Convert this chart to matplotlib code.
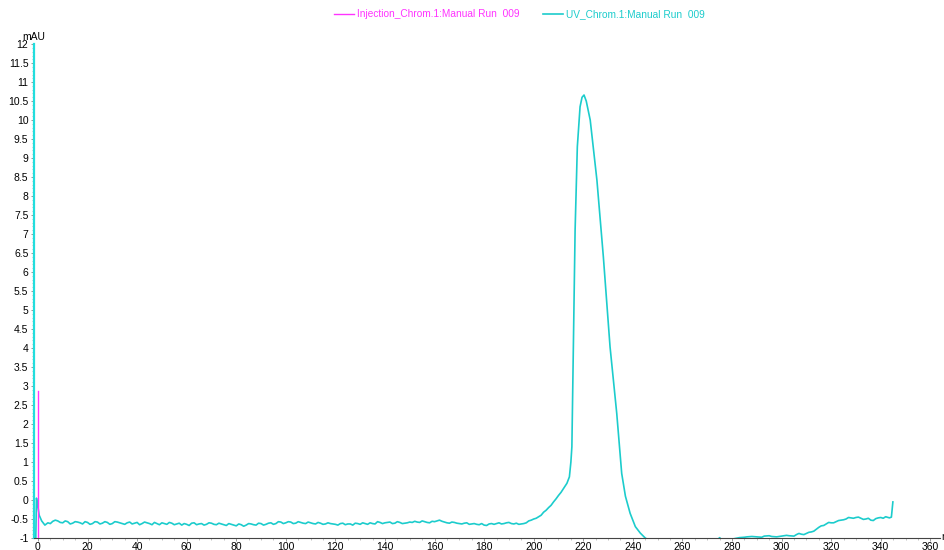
import matplotlib
matplotlib.use("Agg")
import matplotlib.pyplot as plt
from matplotlib.ticker import MultipleLocator, FuncFormatter

# ---- data ----
inj_x = [0.0, 0.0]
inj_y = [-1.0, 2.87]

uv_x = [-1.0, -0.6, -0.2, 0.5, 1.5, 2.8,
        4, 6, 8, 10, 12, 14, 16, 18, 20, 22, 24, 26, 28, 30, 32, 34, 36, 38, 40,
        42, 44, 46, 48, 50, 52, 54, 56, 58, 60, 62, 64, 66, 68, 70, 72, 74, 76, 78, 80,
        82, 84, 86, 88, 90, 92, 94, 96, 98, 100, 102, 104, 106, 108, 110, 112, 114, 116, 118, 120,
        122, 124, 126, 128, 130, 132, 134, 136, 138, 140, 142, 144, 146, 148, 150, 152, 154, 156, 158, 160,
        162, 164, 166, 168, 170, 172, 174, 176, 178, 180, 182, 184, 186, 188, 190, 192, 194, 196, 198, 200,
        202, 204, 206, 208, 210, 212, 213.4, 214.4, 215.0, 215.4, 216.0, 216.7, 217.6, 218.7, 219.5, 220.3,
        221.2, 222.8, 224.0, 225.5, 228.1, 230.8, 233.5, 235.5, 237.0, 238.9, 241.0, 243.0, 245.0,
        247, 250, 255, 260, 265, 270, 274, 275, 276, 280, 283, 286, 290, 293, 296, 300,
        303, 306, 308, 310, 312, 314, 316, 318, 320, 322, 324, 326, 328, 330, 332, 334, 336, 338, 340,
        342, 343.5, 344.3, 344.9]
uv_y = [-1.5, 0.05, -0.10, -0.40, -0.55, -0.66,
        -0.60, -0.56, -0.55, -0.60, -0.57, -0.61, -0.58, -0.63, -0.59, -0.62, -0.58, -0.61, -0.59, -0.62, -0.58, -0.62, -0.60, -0.63, -0.59,
        -0.62, -0.60, -0.65, -0.62, -0.60, -0.64, -0.61, -0.63, -0.66, -0.64, -0.61, -0.65, -0.62, -0.64, -0.61, -0.65, -0.63, -0.67, -0.64, -0.68,
        -0.65, -0.66, -0.63, -0.66, -0.62, -0.64, -0.60, -0.62, -0.58, -0.60, -0.58, -0.61, -0.59, -0.62, -0.60, -0.63, -0.61, -0.63, -0.62, -0.64,
        -0.62, -0.65, -0.63, -0.61, -0.64, -0.62, -0.60, -0.63, -0.59, -0.60, -0.58, -0.61, -0.59, -0.61, -0.58, -0.56, -0.59, -0.57, -0.60, -0.57,
        -0.53, -0.58, -0.61, -0.59, -0.62, -0.61, -0.64, -0.62, -0.65, -0.66, -0.63, -0.64, -0.60, -0.62, -0.59, -0.63, -0.64, -0.62, -0.55, -0.50,
        -0.44, -0.32, -0.20, -0.05, 0.12, 0.30, 0.44, 0.61, 1.0, 1.4, 4.0, 7.1, 9.3, 10.35, 10.6, 10.66,
        10.5, 10.0, 9.3, 8.42, 6.4, 4.03, 2.28, 0.7, 0.1, -0.35, -0.7, -0.87, -1.0,
        -1.08, -1.12, -1.15, -1.15, -1.13, -1.10, -1.06, -0.99, -1.06, -1.03, -0.99, -0.97, -0.97, -0.95, -0.96, -0.95,
        -0.94, -0.91, -0.90, -0.88, -0.84, -0.77, -0.68, -0.63, -0.60, -0.57, -0.53, -0.50, -0.47, -0.46, -0.48, -0.50, -0.53, -0.49, -0.46,
        -0.44, -0.47, -0.45, -0.05]

# extra in-between readings (the baseline's short-scale wiggle)
uv_x_extra = [5, 7, 9, 11, 13, 15, 17, 19, 21, 23, 25, 27, 29, 31, 33, 35, 37, 39, 41, 43, 45, 47, 49,
              51, 53, 55, 57, 59, 61, 63, 65, 67, 69, 71, 73, 75, 77, 79, 81, 83, 85, 87, 89, 91, 93, 95, 97, 99,
              101, 103, 105, 107, 109, 111, 113, 115, 117, 119, 121, 123, 125, 127, 129, 131, 133, 135, 137, 139,
              141, 143, 145, 147, 149, 151, 153, 155, 157, 159, 161, 163, 165, 167, 169, 171, 173, 175, 177, 179,
              181, 183, 185, 187, 189, 191, 193, 195, 197, 199, 201, 203, 205, 207, 209, 211,
              285, 288, 292, 295, 298, 302, 305, 307, 309, 311, 313,
              315, 317, 319, 321, 323, 325, 327, 329, 331, 333, 335, 337, 339, 341]
uv_y_extra = [-0.62, -0.53, -0.59, -0.55, -0.63, -0.57, -0.60, -0.57, -0.64, -0.57, -0.63, -0.57, -0.64, -0.57, -0.60, -0.64, -0.58, -0.61, -0.65, -0.58, -0.62, -0.59, -0.65,
              -0.62, -0.59, -0.65, -0.61, -0.62, -0.67, -0.60, -0.63, -0.66, -0.60, -0.64, -0.61, -0.65, -0.62, -0.66, -0.63, -0.69, -0.62, -0.65, -0.61, -0.66, -0.61, -0.64, -0.57, -0.62,
              -0.57, -0.62, -0.57, -0.61, -0.58, -0.62, -0.59, -0.64, -0.60, -0.63, -0.66, -0.61, -0.63, -0.66, -0.62, -0.60, -0.64, -0.62, -0.57, -0.62,
              -0.59, -0.62, -0.57, -0.62, -0.60, -0.59, -0.58, -0.55, -0.59, -0.56, -0.55, -0.56, -0.60, -0.58, -0.61, -0.63, -0.60, -0.63, -0.64, -0.62,
              -0.67, -0.62, -0.62, -0.63, -0.60, -0.62, -0.61, -0.63, -0.60, -0.53, -0.48, -0.40, -0.27, -0.14, 0.03, 0.20,
              -0.98, -0.96, -0.98, -0.94, -0.97, -0.93, -0.95, -0.88, -0.91, -0.85, -0.82,
              -0.72, -0.67, -0.59, -0.60, -0.54, -0.52, -0.46, -0.48, -0.45, -0.51, -0.48, -0.54, -0.47, -0.48]

inj_label = "Injection_Chrom.1:Manual Run  009"
uv_label = "UV_Chrom.1:Manual Run  009"

MAGENTA = "#ff33ff"
CYAN = "#1ccccc"

plt.rcParams["font.family"] = ["Liberation Sans", "DejaVu Sans"]

pts = sorted(zip(uv_x + uv_x_extra, uv_y + uv_y_extra))
px = [p[0] for p in pts]
py = [p[1] for p in pts]

fig = plt.figure(figsize=(9.44, 5.50), dpi=100)
ax = fig.add_axes([0.036, 0.0218, 0.96, 0.898])

ax.plot(px, py, color=CYAN, lw=1.2, label=uv_label, zorder=2)
ax.plot(inj_x, inj_y, color=MAGENTA, lw=1.0, label=inj_label, zorder=3)

ax.set_xlim(-1.6, 364)
ax.set_ylim(-1, 12)

ax.xaxis.set_major_locator(MultipleLocator(20))
ax.xaxis.set_minor_locator(MultipleLocator(5))
ax.yaxis.set_major_locator(MultipleLocator(0.5))
ax.yaxis.set_minor_locator(MultipleLocator(0.1))
ax.yaxis.set_major_formatter(FuncFormatter(lambda v, p: ("%g" % v)))

for s in ("top", "right"):
    ax.spines[s].set_visible(False)
ax.spines["left"].set_color("#22dddd")
ax.spines["left"].set_linewidth(1.6)
ax.spines["bottom"].set_color("#444444")
ax.spines["bottom"].set_linewidth(0.8)

ax.tick_params(axis="both", which="major", labelsize=7.5, length=2.5, width=0.6,
               color="#888888", pad=1.5)
ax.tick_params(axis="x", which="major", length=2, pad=0.8)
ax.tick_params(axis="both", which="minor", length=1.5, width=0.5, color="#aaaaaa")

ax.text(0.0, 1.004, "mAU", transform=ax.transAxes, fontsize=7.5,
        ha="center", va="bottom")
ax.text(1.001, 0.003, "ml", transform=ax.transAxes, fontsize=7.5,
        ha="left", va="center")

# legend at top
fig.legend(handles=[ax.lines[1], ax.lines[0]], labels=[inj_label, uv_label],
           loc="upper center", bbox_to_anchor=(0.550, 1.0), ncol=2, frameon=False,
           fontsize=7.3, handlelength=2.0, handletextpad=0.3, columnspacing=2.3,
           labelcolor="linecolor")

fig.savefig("out.png", dpi=100)
